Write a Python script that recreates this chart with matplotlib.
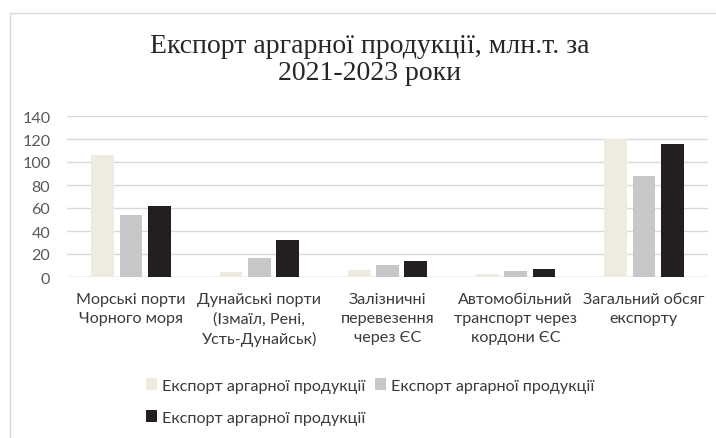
import numpy as np
import matplotlib
matplotlib.use("Agg")
import matplotlib.pyplot as plt
from matplotlib.patches import Rectangle

categories = ["Морські порти\nЧорного моря",
              "Дунайські порти\n(Ізмаїл, Рені,\nУсть-Дунайськ)",
              "Залізничні\nперевезення\nчерез ЄС",
              "Автомобільний\nтранспорт через\nкордони ЄС",
              "Загальний обсяг\nекспорту"]
series_names = ["Експорт аргарної продукції",
                "Експорт аргарної продукції",
                "Експорт аргарної продукції"]
vals_1 = [106, 4.5, 6, 2.5, 120]
vals_2 = [54, 16.5, 10.7, 5.2, 87.5]
vals_3 = [62, 32, 14, 7, 116]
yticks = [0, 20, 40, 60, 80, 100, 120, 140]

colors = ["#EEECE1", "#C6C7C9", "#231F20"]
FONT = "Lato"
TXT = "#3A3A3A"
FS = 11.6

fig = plt.figure(figsize=(7.16, 4.39), dpi=100)
fig.patch.set_facecolor("white")
# chart border (only top/left inside the crop)
fig.add_artist(Rectangle((9.5 / 716, -0.05), 1.2, (1 - 13.5 / 439) + 0.05,
                         transform=fig.transFigure, fill=False,
                         edgecolor="#D9D9D9", lw=1.0))

ax = fig.add_axes([67 / 716, 1 - 278 / 439, (708 - 67) / 716, (278 - 117) / 439])
x = np.arange(len(categories))
w, step = 0.177, 0.221
for i, (vals, c) in enumerate(zip([vals_1, vals_2, vals_3], colors)):
    ax.bar(x + (i - 1) * step, vals, w, color=c, label=series_names[i], zorder=3)

ax.set_xlim(-0.5, len(categories) - 0.5)
ax.set_ylim(0, 140)
ax.set_yticks(yticks)
ax.grid(axis="y", color="#D9D9D9", lw=1.0, zorder=0)
for s in ax.spines.values():
    s.set_visible(False)
ax.axhline(0, color="#D9D9D9", lw=1.0, zorder=1)
ax.tick_params(axis="both", length=0)
ax.tick_params(axis="y", pad=12, labelcolor="#595959", labelsize=FS)
ax.set_yticklabels([str(t) for t in yticks], fontfamily=FONT)
ax.set_xticks(x)
ax.set_xticklabels(categories, fontfamily=FONT, fontsize=FS, color=TXT,
                   linespacing=1.42, va="top")
ax.tick_params(axis="x", pad=11)

fig.text(370 / 716, 1 - 60 / 439, "Експорт аргарної продукції, млн.т. за\n2021-2023 роки",
         ha="center", va="center", fontsize=20, fontfamily="Liberation Serif",
         color="#262626", linespacing=1.15)

h, l = ax.get_legend_handles_labels()
leg = fig.legend([h[0], h[2], h[1]], [l[0], l[2], l[1]], ncol=2,
                 loc="center", bbox_to_anchor=(370 / 716, 1 - 402.5 / 439),
                 frameon=False, handlelength=0.7, handleheight=0.7,
                 handletextpad=0.3, columnspacing=0.6, labelspacing=1.1,
                 prop={"family": FONT, "size": FS})
for t in leg.get_texts():
    t.set_color(TXT)

fig.savefig("out.png", dpi=100, facecolor="white")
